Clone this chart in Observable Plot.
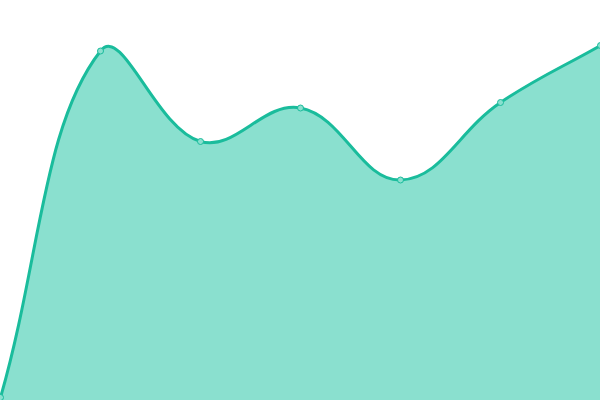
<!DOCTYPE html>
<html>
<head>
<meta charset="utf-8">
<script src="https://cdn.jsdelivr.net/npm/d3@7"></script>
<script src="https://cdn.jsdelivr.net/npm/@observablehq/plot@0.6"></script>
<style>
  html, body { margin: 0; padding: 0; background: #fff; overflow: hidden; }
  svg { overflow: hidden !important; }
</style>
</head>
<body>
<div id="chart"></div>
<script>
const xs = [0, 100, 200, 300, 400, 500, 600];
const values = [3, 349.5, 259, 292.5, 220.5, 298, 355];
const data = xs.map((x, i) => ({x, y: values[i]}));

// Tension-based spline (control points scaled by neighbouring distances), in pixel space
const TENSION = 0.4;
function TensionCurve(context) { this._context = context; }
TensionCurve.prototype = {
  areaStart() { this._line = 0; },
  areaEnd() { this._line = NaN; },
  lineStart() { this._pts = []; },
  point(x, y) { this._pts.push([+x, +y]); },
  lineEnd() {
    const p = this._pts, n = p.length, c = this._context;
    if (n) {
      if (this._line) c.lineTo(p[0][0], p[0][1]); else c.moveTo(p[0][0], p[0][1]);
      if (n === 2) {
        c.lineTo(p[1][0], p[1][1]);
      } else if (n > 2) {
        const cps = p.map((cur, i) => {
          const prev = p[i - 1] || cur, next = p[i + 1] || cur;
          const d01 = Math.hypot(cur[0] - prev[0], cur[1] - prev[1]);
          const d12 = Math.hypot(next[0] - cur[0], next[1] - cur[1]);
          let s01 = d01 / (d01 + d12), s12 = d12 / (d01 + d12);
          if (isNaN(s01)) s01 = 0;
          if (isNaN(s12)) s12 = 0;
          const fa = TENSION * s01, fb = TENSION * s12;
          const clampX = v => Math.max(0, Math.min(600, v));
          const clampY = v => Math.max(0, Math.min(400, v));
          return {
            prev: [clampX(cur[0] - fa * (next[0] - prev[0])), clampY(cur[1] - fa * (next[1] - prev[1]))],
            next: [clampX(cur[0] + fb * (next[0] - prev[0])), clampY(cur[1] + fb * (next[1] - prev[1]))]
          };
        });
        for (let i = 1; i < n; i++) {
          const a = cps[i - 1].next, b = cps[i].prev;
          c.bezierCurveTo(a[0], a[1], b[0], b[1], p[i][0], p[i][1]);
        }
      }
    }
    if (this._line || (this._line !== 0 && n === 1)) c.closePath();
    this._line = 1 - this._line;
  }
};
const tensionCurve = context => new TensionCurve(context);

const chart = Plot.plot({
  width: 600,
  height: 400,
  margin: 0,
  x: {domain: [0, 600], axis: null},
  y: {domain: [0, 400], axis: null},
  marks: [
    Plot.areaY(data, {x: "x", y: "y", curve: tensionCurve, fill: "#8ae0cf"}),
    Plot.lineY(data, {x: "x", y: "y", curve: tensionCurve, stroke: "#1abc9c", strokeWidth: 3}),
    Plot.dot(data, {x: "x", y: "y", r: 3, fill: "#8ae0cf", stroke: "#1abc9c", strokeWidth: 1})
  ]
});
document.getElementById("chart").appendChild(chart);
</script>
</body>
</html>
